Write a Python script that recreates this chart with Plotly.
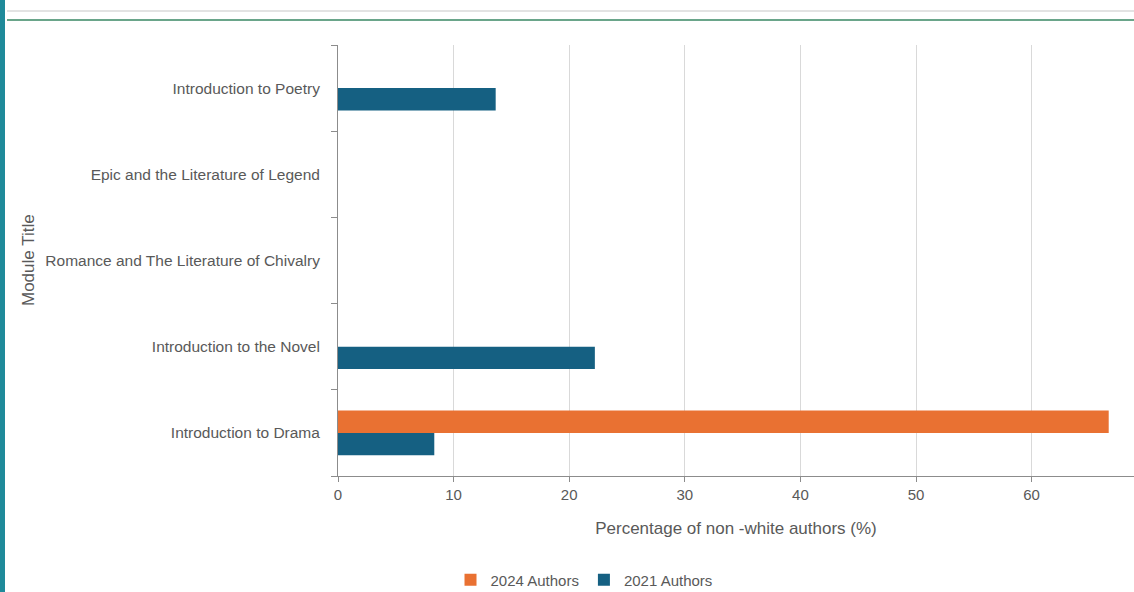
import plotly.graph_objects as go

categories = [
    "Introduction to Poetry",
    "Epic and the Literature of Legend",
    "Romance and The Literature of Chivalry",
    "Introduction to the Novel",
    "Introduction to Drama",
]
authors_2021 = [13.64, 0, 0, 22.22, 8.33]
authors_2024 = [0, 0, 0, 0, 66.67]
x_ticks = [0, 10, 20, 30, 40, 50, 60]

FONT = "Liberation Sans"
GREY = "#595959"

W, H = 1134, 592
L, R, T, B = 338, 0, 45, 116
pw = W - L - R
ph = H - T - B

fig = go.Figure()
fig.add_trace(go.Bar(
    y=categories, x=authors_2021, orientation="h", name="2021 Authors",
    marker=dict(color="#156082", line=dict(width=0)),
))
fig.add_trace(go.Bar(
    y=categories, x=authors_2024, orientation="h", name="2024 Authors",
    marker=dict(color="#E97132", line=dict(width=0)),
))

def px(xp):
    return (xp - L) / pw

def py(yp):
    return 1 - (yp - T) / ph

shapes = [
    # left decorative teal strip of the slide
    dict(type="rect", xref="paper", yref="paper", x0=px(0), x1=px(5), y0=py(H), y1=py(0),
         fillcolor="#1f8a9a", line=dict(width=0), layer="above"),
    # top slide lines
    dict(type="line", xref="paper", yref="paper", x0=px(7), x1=px(W), y0=py(11), y1=py(11),
         line=dict(color="#e3e3e3", width=2)),
    dict(type="line", xref="paper", yref="paper", x0=px(7), x1=px(W), y0=py(20), y1=py(20),
         line=dict(color="#6aa58a", width=2)),
]

fig.update_layout(
    width=W, height=H,
    margin=dict(l=L, r=R, t=T, b=B, autoexpand=False),
    paper_bgcolor="white", plot_bgcolor="white",
    font=dict(family=FONT, size=15, color=GREY),
    barmode="group", bargap=0.48, bargroupgap=0,
    shapes=shapes,
    legend=dict(
        orientation="h", traceorder="reversed",
        xref="container", yref="container",
        x=0.515, xanchor="center", y=1 - 580 / H, yanchor="middle",
        font=dict(size=15, color=GREY), itemwidth=30,
    ),
    annotations=[
        dict(text="Module Title", xref="paper", yref="paper",
             x=px(28), y=py(260), textangle=-90, showarrow=False,
             font=dict(size=17, color=GREY), xanchor="center", yanchor="middle"),
    ],
    xaxis=dict(
        range=[0, (W - L) / 11.56], tickvals=x_ticks,
        showgrid=True, gridcolor="#d9d9d9", gridwidth=1,
        showline=True, linecolor="#8c8c8c", linewidth=1,
        ticks="outside", ticklen=5, tickcolor="#8c8c8c",
        zeroline=False,
        tickfont=dict(size=15, color=GREY),
        title=dict(text="Percentage of non -white authors (%)", standoff=20,
                   font=dict(size=17, color=GREY)),
    ),
    yaxis=dict(
        categoryorder="array", categoryarray=categories[::-1],
        showline=True, linecolor="#8c8c8c", linewidth=1,
        ticks="outside", ticklen=6, tickcolor="#8c8c8c", tickson="boundaries",
        showgrid=False, ticklabelstandoff=14,
        tickfont=dict(size=15.5, color=GREY),
    ),
)

fig.write_html("out.html")
